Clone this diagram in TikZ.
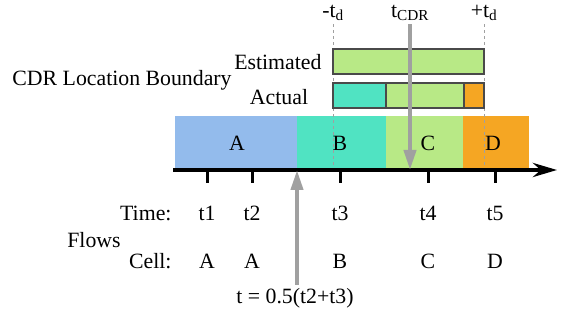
\documentclass[tikz,border=0pt]{standalone}
\usepackage{fontspec}
\setmainfont{Liberation Serif}
\usetikzlibrary{arrows.meta}
\definecolor{clCellA}{HTML}{93BBEC}
\definecolor{clCellB}{HTML}{50E3C2}
\definecolor{clCellC}{HTML}{B8E986}
\definecolor{clCellD}{HTML}{F5A623}
\definecolor{clEdge}{HTML}{4A4A4A}
\definecolor{clPointer}{HTML}{A0A0A0}

\begin{document}
\begin{tikzpicture}[x=1pt,y=-1pt,every node/.style={font=\fontsize{21.8}{25}\selectfont},
  seg/.style={draw=clEdge,line width=1.5pt},
  pointer/.style={draw=clPointer,line width=4pt,-{Triangle[length=20pt,width=12pt]}},
  bound/.style={draw=clPointer,dashed,line width=0.5pt}]
  \useasboundingbox (0,0) rectangle (564,320);
  % cells along the time axis
  \fill[clCellA] (175,116) rectangle (297,170);
  \fill[clCellB] (297,116) rectangle (386,170);
  \fill[clCellC] (386,116) rectangle (463,170);
  \fill[clCellD] (463,116) rectangle (529,170);
  \node (cellA) at (237,143) {A}; \node (cellB) at (340,143) {B};
  \node (cellC) at (428,143) {C}; \node (cellD) at (493,143) {D};
  % boundary window
  \node (mtd) at (333,13) {-t\textsubscript{d}};
  \node (tcdr) at (410,13) {t\textsubscript{CDR}};
  \node (ptd) at (484,13) {+t\textsubscript{d}};
  \coordinate (axL) at (173,170); \coordinate (axR) at (557,170);
  \draw[bound] (mtd.south) -- (mtd.south |- axL);
  \draw[bound] (ptd.south) -- (ptd.south |- axL);
  \node (cdr) at (122,80) {CDR Location Boundary};
  \node[anchor=east] (est) at (325,62) {Estimated};
  \node (act) at (279,97) {Actual};
  \draw[seg,fill=clCellC] (333,49) rectangle (484,74);
  \draw[seg,fill=clCellB] (333,83) rectangle (386,108);
  \draw[seg,fill=clCellC] (386,83) rectangle (464,108);
  \draw[seg,fill=clCellD] (464,83) rectangle (484,108);
  % time axis
  \draw[line width=4pt,-{Stealth[length=24pt,width=14pt]}] (axL) -- (axR);
  \foreach \x in {207,252,340,428,495} \draw[line width=3pt] (\x,170) -- (\x,183);
  % flows
  \node[anchor=east] (time) at (175,213) {Time:};
  \node (flows) at (94,240) {Flows};
  \node[anchor=east] (cell) at (175,261) {Cell:};
  \foreach \x/\t/\c in {207/t1/A,252/t2/A,340/t3/B,428/t4/C,495/t5/D} {
    \node (time-\t) at (\x,213) {\t};
    \node (cell-\t) at (\x,261) {\c};
  }
  \node (half) at (295,298) {t = 0.5(t2+t3)};
  \draw[pointer] ([xshift=2pt]half.north) -- ([xshift=2pt]half.north |- axL);
  \draw[pointer] (tcdr.south) -- (tcdr.south |- axL);
\end{tikzpicture}
\end{document}
